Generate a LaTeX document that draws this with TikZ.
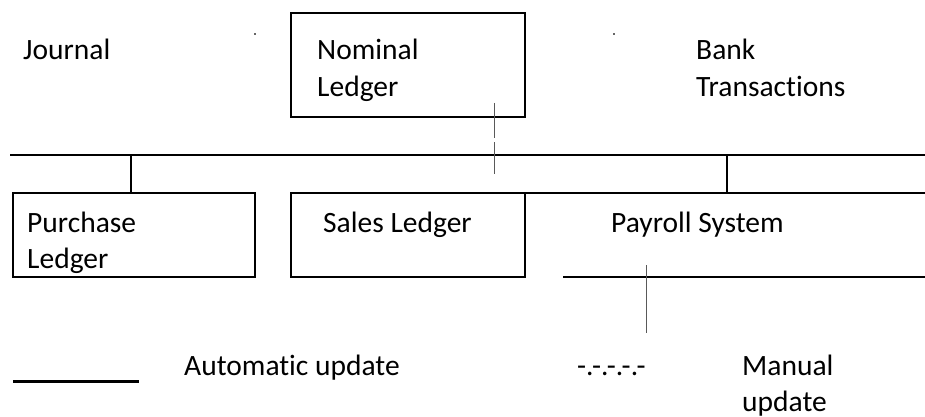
\documentclass[tikz,border=0pt]{standalone}
\usepackage{fontspec}
\setmainfont{Carlito}[Ligatures=NoCommon]
\begin{document}
\begin{tikzpicture}[x=1pt,y=-1pt,
  lbl/.style={anchor=base west,inner sep=0pt,align=left,font=\fontsize{29.5}{36}\selectfont},
  boxn/.style={draw,line width=2pt,inner sep=0pt},
  wire/.style={line width=2pt},
  thin/.style={line width=1pt,draw=black!65}]
\useasboundingbox (0,0) rectangle (925,417);
% boxes
\node[boxn,minimum width=234pt,minimum height=104pt] (nom) at (408,65) {};
\node[boxn,minimum width=242pt,minimum height=84pt] (pur) at (134,235) {};
\node[boxn,minimum width=234pt,minimum height=84pt] (sal) at (408,235) {};
% texts (base = last line)
\node[lbl] (jour) at (23,60) {Journal};
\node[lbl] (nomt) at (317,96) {Nominal\\Ledger};
\node[lbl] (bank) at (696,96) {Bank\\Transactions};
\node[lbl] (purt) at (27,268) {Purchase\\Ledger};
\node[lbl] (salt) at (323,232) {Sales Ledger};
\node[lbl] (payt) at (611,232) {Payroll System};
\node[lbl] (auto) at (184,375) {Automatic update};
\node[lbl] (dash) at (577,375) {-.-.-.-.-};
\node[lbl] (man) at (742,411) {Manual\\update};
% tiny dots
\fill[black!60] (254,33) rectangle (255.5,35);
\fill[black!60] (613,33) rectangle (614.5,35);
% bus
\coordinate (busl) at (10,155);
\coordinate (busr) at (925,155);
\draw[wire] (busl) -- (busr);
\draw[wire] (131,155) -- (pur.north -| 131,0);
\coordinate (ptl) at (525,193);
\coordinate (ptr) at (925,193);
\draw[wire] (ptl) -- (ptr);
\coordinate (pbl) at (563,277);
\coordinate (pbr) at (925,277);
\draw[wire] (pbl) -- (pbr);
\draw[wire] (727,155) -- (ptl -| 727,0);
% nominal thin connector
\coordinate (n1) at (494,103);
\coordinate (n2) at (494,138);
\coordinate (n3) at (494,142);
\coordinate (n4) at (494,174);
\draw[thin] (n1) -- (n2);
\draw[thin] (n3) -- (n4);
% payroll thin line
\coordinate (p1) at (646,265);
\coordinate (p2) at (646,333);
\draw[thin] (p1) -- (p2);
% legend line
\coordinate (l1) at (13,381);
\coordinate (l2) at (139,381);
\draw[line width=3pt] (l1) -- (l2);
\end{tikzpicture}
\end{document}
